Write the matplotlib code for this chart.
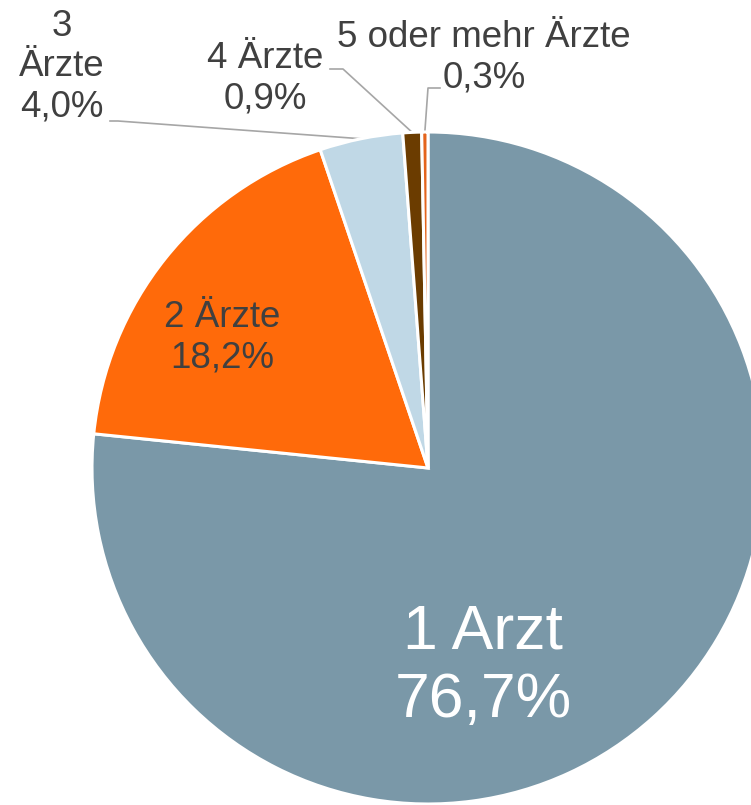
import numpy as np
import matplotlib.pyplot as plt

plt.rcParams['font.family'] = ['Liberation Sans', 'DejaVu Sans']

categories = ['1 Arzt', '2 Ärzte', '3 Ärzte', '4 Ärzte', '5 oder mehr Ärzte']
shares = [76.7, 18.2, 4.0, 0.9, 0.3]
share_labels = ['76,7%', '18,2%', '4,0%', '0,9%', '0,3%']
colors = ['#7a98a8', '#ff6a0a', '#c0d8e6', '#6b3c00', '#e4641c']

W, H = 751, 805
CX, CY, R = 428, 468, 336   # pie centre and radius in pixels


def px(x, y):
    # pixel position (from top-left) -> data coords of the pie
    return (x - CX) / R, (CY - y) / R


fig = plt.figure(figsize=(W / 100, H / 100), dpi=100)
ax = fig.add_axes([0, 0, 1, 1])

wedges, _ = ax.pie(shares, colors=colors, startangle=90, counterclock=False,
                   radius=1, wedgeprops=dict(edgecolor='white', linewidth=2.2))

ax.set_xlim(px(0, 0)[0], px(W, 0)[0])
ax.set_ylim(px(0, H)[1], px(0, 0)[1])
ax.set_aspect('auto')
ax.axis('off')

text_col = '#404040'
line_col = '#a6a6a6'


def mid_point(w):
    ang = np.deg2rad((w.theta1 + w.theta2) / 2)
    return np.cos(ang) * w.r, np.sin(ang) * w.r


# labels inside the big slices
ax.text(*px(483, 666), f'{categories[0]}\n{share_labels[0]}', color='white',
        fontsize=45, ha='center', va='center')
ax.text(*px(222, 338), f'{categories[1]}\n{share_labels[1]}', color=text_col,
        fontsize=26.5, ha='center', va='center')

# outside labels with leader lines
ax.text(*px(62, 67), f'3\nÄrzte\n{share_labels[2]}', color=text_col,
        fontsize=26.5, ha='center', va='center')
ax.text(*px(265, 79), f'{categories[3]}\n{share_labels[3]}', color=text_col,
        fontsize=26.5, ha='center', va='center')
ax.text(*px(484, 58), f'{categories[4]}\n{share_labels[4]}', color=text_col,
        fontsize=26.5, ha='center', va='center')

leaders = [
    (2, [px(110, 121), px(118, 121)]),
    (3, [px(330, 69), px(343, 69)]),
    (4, [px(440, 88), px(428, 88)]),
]
for idx, pts in leaders:
    pts = pts + [mid_point(wedges[idx])]
    xs, ys = zip(*pts)
    ax.plot(xs, ys, color=line_col, linewidth=1.2, zorder=0.5)

fig.savefig('out.png', dpi=100)
